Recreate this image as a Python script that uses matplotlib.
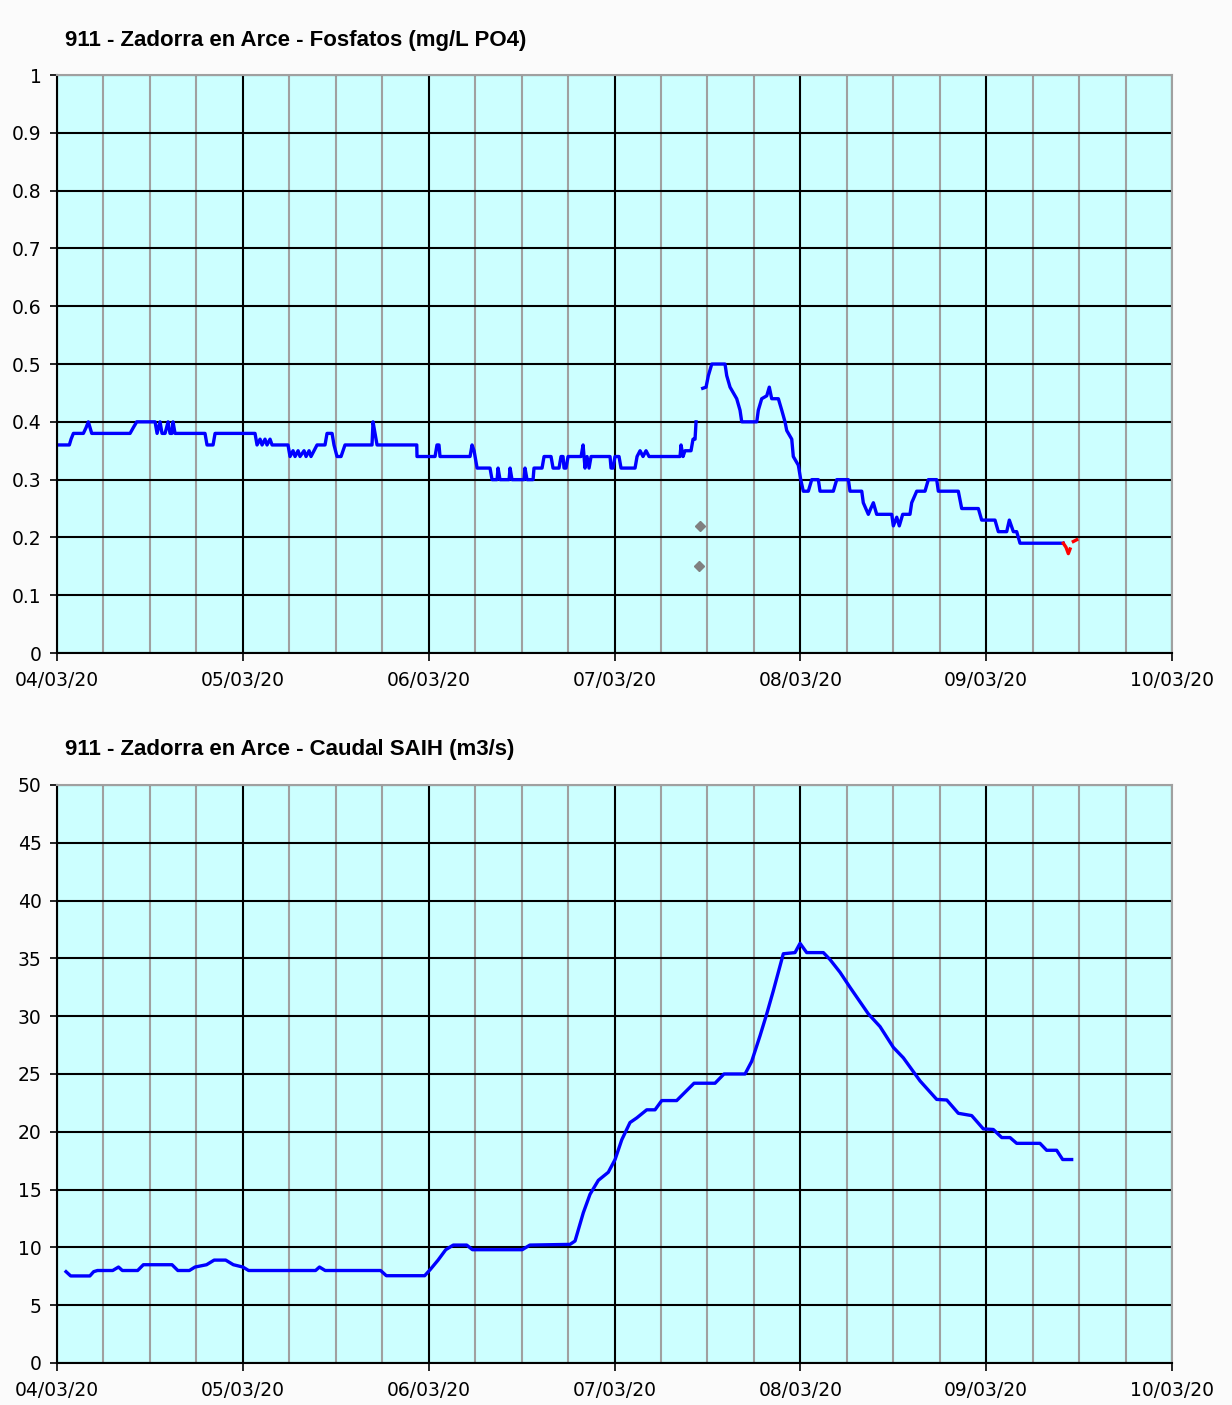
import matplotlib
matplotlib.use("Agg")
import matplotlib.pyplot as plt
import matplotlib.dates as mdates
from matplotlib.ticker import MultipleLocator, FuncFormatter
import pandas as pd

START = pd.Timestamp("2020-03-04")

# Fosfatos (mg/L PO4) -- hours after 04/03/20 00:00, value
FOS1_H = [0.17, 1.59, 1.81, 2.11, 3.40, 3.75, 4.04, 4.26, 4.48, 9.43, 9.85, 10.29,
          12.66, 12.92, 13.30, 13.56, 13.95, 14.34, 14.59, 14.85, 14.98, 15.24,
          19.11, 19.37, 20.15, 20.41, 25.57, 25.83, 26.22, 26.48, 26.86, 27.12,
          27.51, 27.77, 29.83, 30.09, 30.48, 30.74, 31.13, 31.38, 31.90, 32.16,
          32.55, 32.80, 33.19, 33.58, 34.61, 34.87, 35.52, 35.77, 36.16, 36.68,
          37.19, 40.68, 40.81, 41.07, 41.33, 46.46, 46.49, 48.82, 49.07, 49.33,
          49.46, 53.34, 53.60, 53.86, 54.25, 55.92, 56.18, 56.83, 56.96, 57.21,
          58.38, 58.51, 58.76, 60.31, 60.44, 60.70, 61.48, 61.60, 62.64, 62.90,
          63.80, 64.06, 64.83, 65.09, 65.35, 65.48, 65.74, 66.00, 67.68, 67.94,
          68.19, 68.45, 68.71, 68.97, 71.42, 71.55, 71.81, 72.06, 72.58, 72.84,
          74.65, 74.91, 75.30, 75.68, 76.07, 76.46, 76.97, 80.46, 80.59, 80.85,
          81.10, 81.88, 82.14, 82.40, 82.53]
FOS1_V = [0.36, 0.36, 0.37, 0.38, 0.38, 0.39, 0.40, 0.39, 0.38, 0.38, 0.39, 0.40,
          0.40, 0.38, 0.40, 0.38, 0.38, 0.40, 0.38, 0.38, 0.40, 0.38,
          0.38, 0.36, 0.36, 0.38, 0.38, 0.36, 0.37, 0.36, 0.37, 0.36,
          0.37, 0.36, 0.36, 0.34, 0.35, 0.34, 0.35, 0.34, 0.35, 0.34,
          0.35, 0.34, 0.35, 0.36, 0.36, 0.38, 0.38, 0.36, 0.34, 0.34,
          0.36, 0.36, 0.40, 0.38, 0.36, 0.36, 0.34, 0.34, 0.36, 0.36,
          0.34, 0.34, 0.36, 0.35, 0.32, 0.32, 0.30, 0.30, 0.32, 0.30,
          0.30, 0.32, 0.30, 0.30, 0.32, 0.30, 0.30, 0.32, 0.32, 0.34,
          0.34, 0.32, 0.32, 0.34, 0.34, 0.32, 0.32, 0.34, 0.34, 0.36,
          0.32, 0.34, 0.32, 0.34, 0.34, 0.32, 0.32, 0.34, 0.34, 0.32,
          0.32, 0.34, 0.35, 0.34, 0.35, 0.34, 0.34, 0.34, 0.36, 0.34,
          0.35, 0.35, 0.37, 0.37, 0.40]

FOS2_H = [83.39, 83.82, 84.12, 84.56, 86.27, 86.49, 86.92, 87.78, 88.21, 88.43,
          90.37, 90.57, 91.01, 91.66, 91.99, 92.30, 93.16, 93.60, 94.02, 94.24,
          94.89, 95.09, 95.74, 96.05, 96.38, 97.03, 97.47, 98.32, 98.54, 100.26,
          100.70, 102.20, 102.41, 103.93, 104.13, 104.78, 105.09, 105.43, 105.86,
          107.80, 108.01, 108.45, 108.78, 109.22, 110.16, 110.38, 111.03, 112.10,
          112.53, 113.61, 113.82, 116.40, 116.84, 118.99, 119.42, 121.14, 121.57,
          122.65, 122.99, 123.51, 123.94, 124.37, 129.96]
FOS2_V = [0.458, 0.46, 0.48, 0.50, 0.50, 0.48, 0.46, 0.44, 0.42, 0.40,
          0.40, 0.42, 0.44, 0.445, 0.46, 0.44, 0.44, 0.42, 0.40, 0.385,
          0.37, 0.34, 0.325, 0.30, 0.28, 0.28, 0.30, 0.30, 0.28, 0.28,
          0.30, 0.30, 0.28, 0.28, 0.26, 0.24, 0.25, 0.26, 0.24,
          0.24, 0.22, 0.235, 0.22, 0.24, 0.24, 0.26, 0.28, 0.28,
          0.30, 0.30, 0.28, 0.28, 0.25, 0.25, 0.23, 0.23, 0.21,
          0.21, 0.23, 0.21, 0.21, 0.19, 0.19]

# provisional values (red)
FOS_RED1_H = [129.96, 130.31, 130.61, 130.83]
FOS_RED1_V = [0.19, 0.183, 0.172, 0.18]
FOS_RED2_H = [131.26, 131.69]
FOS_RED2_V = [0.193, 0.196]

# isolated lab samples (grey)
FOS_PT_H = [82.88, 83.04]
FOS_PT_V = [0.15, 0.22]

# Caudal SAIH (m3/s)
CAU_H = [1.16, 1.76, 4.24, 4.73, 5.22, 7.19, 7.94, 8.43, 10.41, 11.15, 14.85,
         15.60, 17.09, 17.82, 19.31, 20.29, 21.78, 22.77, 24.00, 24.74, 33.39,
         33.89, 34.63, 41.79, 42.53, 47.48, 48.22, 49.21, 50.20, 51.18, 52.91,
         53.65, 60.08, 61.07, 66.25, 66.90, 67.97, 68.84, 69.91, 71.20, 72.07,
         72.93, 74.00, 74.87, 76.16, 77.23, 78.10, 80.03, 82.27, 84.98, 86.14,
         88.86, 89.72, 90.79, 91.66, 92.51, 93.80, 95.31, 95.96, 96.82, 98.97,
         99.83, 101.12, 102.41, 104.78, 106.29, 108.01, 109.30, 111.46, 113.61,
         114.91, 116.40, 118.13, 119.63, 120.92, 122.01, 123.08, 123.94, 126.95,
         127.81, 129.10, 129.88, 131.04]
CAU_V = [7.9, 7.53, 7.53, 7.9, 8.0, 8.0, 8.3, 8.0, 8.0, 8.5, 8.5,
         8.0, 8.0, 8.3, 8.5, 8.9, 8.9, 8.5, 8.3, 8.0, 8.0,
         8.3, 8.0, 8.0, 7.55, 7.55, 8.1, 8.9, 9.8, 10.2, 10.2,
         9.8, 9.8, 10.2, 10.26, 10.55, 13.0, 14.6, 15.8, 16.5, 17.6,
         19.3, 20.8, 21.2, 21.9, 21.9, 22.7, 22.7, 24.2, 24.2, 25.0,
         25.0, 26.1, 28.3, 30.2, 32.2, 35.4, 35.5, 36.3, 35.5, 35.5,
         34.9, 33.8, 32.5, 30.2, 29.1, 27.3, 26.4, 24.4, 22.8,
         22.75, 21.6, 21.4, 20.25, 20.2, 19.5, 19.5, 19.0, 19.0,
         18.4, 18.4, 17.6, 17.6]

TITLE_FOS = "911 - Zadorra en Arce - Fosfatos (mg/L PO4)"
TITLE_CAU = "911 - Zadorra en Arce - Caudal SAIH (m3/s)"

BLUE = "#0000FF"
GRID_MINOR = "#A0A0A0"
FACE = "#CCFFFF"


def to_time(hours):
    return START + pd.to_timedelta(hours, unit="h")


def style_axes(ax, ymax, ystep):
    ax.set_facecolor(FACE)
    ax.set_xlim(START, START + pd.Timedelta(days=6))
    ax.set_ylim(0, ymax)
    ax.yaxis.set_major_locator(MultipleLocator(ystep))
    ax.yaxis.set_major_formatter(FuncFormatter(lambda v, p: f"{v:g}"))
    ax.xaxis.set_major_locator(mdates.DayLocator())
    ax.xaxis.set_minor_locator(mdates.HourLocator(byhour=[6, 12, 18]))
    ax.xaxis.set_major_formatter(mdates.DateFormatter("%d/%m/%y"))
    ax.set_axisbelow(True)
    ax.grid(which="minor", axis="x", color=GRID_MINOR, lw=1.5)
    ax.grid(which="major", color="black", lw=1.5)
    ax.tick_params(axis="y", direction="out", length=5, width=1.2, pad=6,
                   labelsize=13.5)
    ax.tick_params(axis="x", which="major", direction="out", length=6,
                   width=1.2, pad=7, labelsize=13.5)
    ax.tick_params(axis="x", which="minor", length=0)
    for side in ("left", "bottom"):
        ax.spines[side].set_color("black")
        ax.spines[side].set_linewidth(1.5)
    for side in ("top", "right"):
        ax.spines[side].set_color(GRID_MINOR)
        ax.spines[side].set_linewidth(1.5)


plt.rcParams["font.family"] = ["DejaVu Sans"]

fig = plt.figure(figsize=(12.32, 14.05), dpi=100)
fig.patch.set_facecolor("#FBFBFB")

ax1 = fig.add_axes([0.0463, 0.5352, 0.905, 0.4114])
ax2 = fig.add_axes([0.0463, 0.0299, 0.905, 0.4114])

style_axes(ax1, 1.0, 0.1)
ax1.plot(to_time(FOS1_H), FOS1_V, color=BLUE, lw=2.4)
ax1.plot(to_time(FOS2_H), FOS2_V, color=BLUE, lw=2.4)
ax1.plot(to_time(FOS_RED1_H), FOS_RED1_V, color="red", lw=2.4)
ax1.plot(to_time(FOS_RED2_H), FOS_RED2_V, color="red", lw=2.4)
ax1.plot(to_time(FOS_PT_H), FOS_PT_V, ls="none", marker="D", ms=5,
         color="#808080")

style_axes(ax2, 50, 5)
ax2.plot(to_time(CAU_H), CAU_V, color=BLUE, lw=2.4)

fig.text(0.0528, 0.9715, TITLE_FOS, family="Liberation Sans", weight="bold",
         fontsize=16, va="center", ha="left")
fig.text(0.0528, 0.4662, TITLE_CAU, family="Liberation Sans", weight="bold",
         fontsize=16, va="center", ha="left")

fig.savefig("out.png", dpi=100, facecolor=fig.get_facecolor())
